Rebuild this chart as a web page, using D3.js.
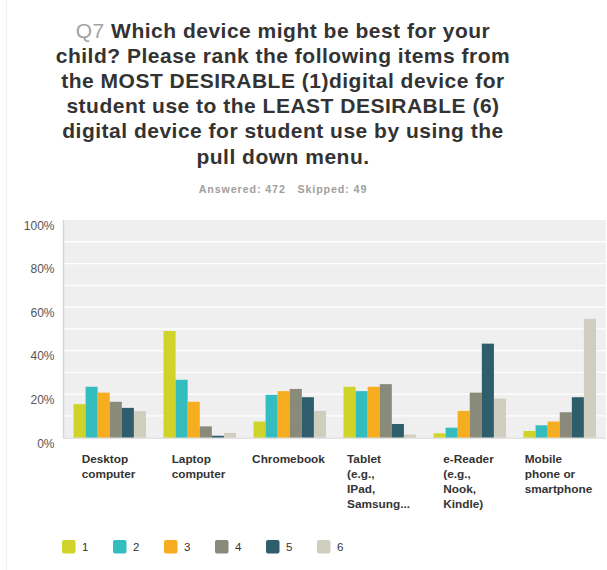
<!DOCTYPE html>
<html>
<head>
<meta charset="utf-8">
<script src="https://cdn.jsdelivr.net/npm/d3@7/dist/d3.min.js"></script>
<style>
  html, body { margin: 0; padding: 0; background: #fff; }
  svg { display: block; }
</style>
</head>
<body>
<svg id="chart" width="607" height="570"></svg>
<script>
// Devices ranked from most desirable (1) to least desirable (6)
const categories = [
  ["Desktop", "computer"],
  ["Laptop", "computer"],
  ["Chromebook"],
  ["Tablet", "(e.g.,", "IPad,", "Samsung..."],
  ["e-Reader", "(e.g.,", "Nook,", "Kindle)"],
  ["Mobile", "phone or", "smartphone"]
];
const ranks = ["1", "2", "3", "4", "5", "6"];
// percent of respondents giving each rank, one array per device
const desktop    = [15.4, 23.4, 20.7, 16.5, 13.7, 12.2];
const laptop     = [49.0, 26.6, 16.5, 5.2, 0.9, 2.2];
const chromebook = [7.4, 19.7, 21.4, 22.4, 18.6, 12.3];
const tablet     = [23.4, 21.4, 23.4, 24.6, 6.3, 1.4];
const eReader    = [2.0, 4.6, 12.3, 20.7, 43.2, 18.0];
const mobile     = [3.1, 5.7, 7.4, 11.7, 18.6, 54.6];
const yTicks = [0, 20, 40, 60, 80, 100];
const colors = ["#cfd32a", "#33bdbf", "#f6ad20", "#898a7a", "#2e5e6b", "#d0cebf"];

const values = [desktop, laptop, chromebook, tablet, eReader, mobile];
const FONT = "Liberation Sans, Arial, sans-serif";

const svg = d3.select("#chart");

// faint page edge
svg.append("line")
  .attr("x1", 6.5).attr("x2", 6.5).attr("y1", 0).attr("y2", 570)
  .attr("stroke", "#f0f0f0");

// title
const titleLines = [
  "Which device might be best for your",
  "child? Please rank the following items from",
  "the MOST DESIRABLE (1)digital device for",
  "student use to the LEAST DESIRABLE (6)",
  "digital device for student use by using the",
  "pull down menu."
];
const title = svg.append("text")
  .attr("text-anchor", "middle")
  .attr("font-family", FONT)
  .attr("font-size", 21)
  .attr("letter-spacing", 0.5)
  .attr("font-weight", "bold")
  .attr("fill", "#333");
titleLines.forEach((line, i) => {
  const t = title.append("tspan").attr("x", 283).attr("y", 38 + i * 25.1);
  if (i === 0) {
    t.append("tspan").attr("fill", "#a3a3a3").attr("font-weight", "normal").text("Q7 ");
    t.append("tspan").text(line);
  } else {
    t.text(line);
  }
});

svg.append("text")
  .attr("x", 283).attr("y", 193.3)
  .attr("text-anchor", "middle")
  .attr("font-family", FONT)
  .attr("font-size", 10.7)
  .attr("letter-spacing", 0.9)
  .attr("font-weight", "bold")
  .attr("fill", "#a0a0a0")
  .attr("xml:space", "preserve")
  .text("Answered: 472   Skipped: 49");

// plot area
const plotLeft = 63.5, plotRight = 606, plotTop = 220, plotBottom = 437.7;

const x = d3.scaleBand().domain(d3.range(categories.length)).range([plotLeft, plotLeft + 540]);
const xInner = d3.scaleBand().domain(ranks).range([10, 82.5]);
const y = d3.scaleLinear().domain([0, 100]).range([plotBottom, plotTop]);

svg.append("rect")
  .attr("x", plotLeft).attr("y", plotTop)
  .attr("width", plotRight - plotLeft).attr("height", plotBottom - plotTop)
  .attr("fill", "#efefef");

// gridlines every 10%
svg.append("g").selectAll("line")
  .data(d3.range(10, 100, 10))
  .join("line")
  .attr("x1", plotLeft).attr("x2", plotRight)
  .attr("y1", d => y(d)).attr("y2", d => y(d))
  .attr("stroke", "#fff").attr("stroke-width", 1.3);

// y labels
svg.append("g").selectAll("text")
  .data(yTicks)
  .join("text")
  .attr("x", 54.5).attr("y", d => y(d) + 9.8)
  .attr("text-anchor", "end")
  .attr("font-family", FONT)
  .attr("font-size", 12)
  .attr("fill", "#555")
  .text(d => d + "%");

// bars
const groups = svg.append("g").selectAll("g")
  .data(values)
  .join("g")
  .attr("transform", (d, i) => `translate(${x(i)},0)`);
groups.selectAll("rect")
  .data(d => d.map((v, j) => ({ v, r: ranks[j], j })))
  .join("rect")
  .attr("x", d => xInner(d.r))
  .attr("width", xInner.bandwidth())
  .attr("y", d => y(d.v))
  .attr("height", d => y(0) - y(d.v))
  .attr("fill", d => colors[d.j]);

// axis lines
svg.append("line")
  .attr("x1", plotLeft).attr("x2", plotLeft).attr("y1", plotTop).attr("y2", plotBottom + 1)
  .attr("stroke", "#d6d6d6").attr("stroke-width", 1.5);
svg.append("line")
  .attr("x1", plotLeft).attr("x2", plotRight).attr("y1", plotBottom + 0.5).attr("y2", plotBottom + 0.5)
  .attr("stroke", "#d6d6d6").attr("stroke-width", 1);

// category labels: left-aligned blocks centred under each group
const cat = svg.append("g").selectAll("text")
  .data(categories)
  .join("text")
  .attr("font-family", FONT)
  .attr("font-size", 11.8)
  .attr("font-weight", "bold")
  .attr("fill", "#333");
cat.each(function (lines, i) {
  const tspans = d3.select(this).selectAll("tspan")
    .data(lines)
    .join("tspan")
    .attr("x", 0)
    .attr("y", (d, k) => 463.3 + k * 14.8)
    .text(d => d);
  const w = d3.max(tspans.nodes(), n => n.getComputedTextLength());
  tspans.attr("x", x(i) + x.bandwidth() / 2 - w / 2);
});

// legend
const lx = d3.scalePoint().domain(ranks).range([62, 317]);
const leg = svg.append("g").selectAll("g")
  .data(ranks)
  .join("g")
  .attr("transform", d => `translate(${lx(d)},540)`);
leg.append("rect")
  .attr("width", 13.5).attr("height", 13.5).attr("rx", 2)
  .attr("fill", (d, i) => colors[i]);
leg.append("text")
  .attr("x", 20).attr("y", 10.5)
  .attr("font-family", FONT)
  .attr("font-size", 11.5)
  .attr("fill", "#333")
  .text(d => d);
</script>
</body>
</html>
